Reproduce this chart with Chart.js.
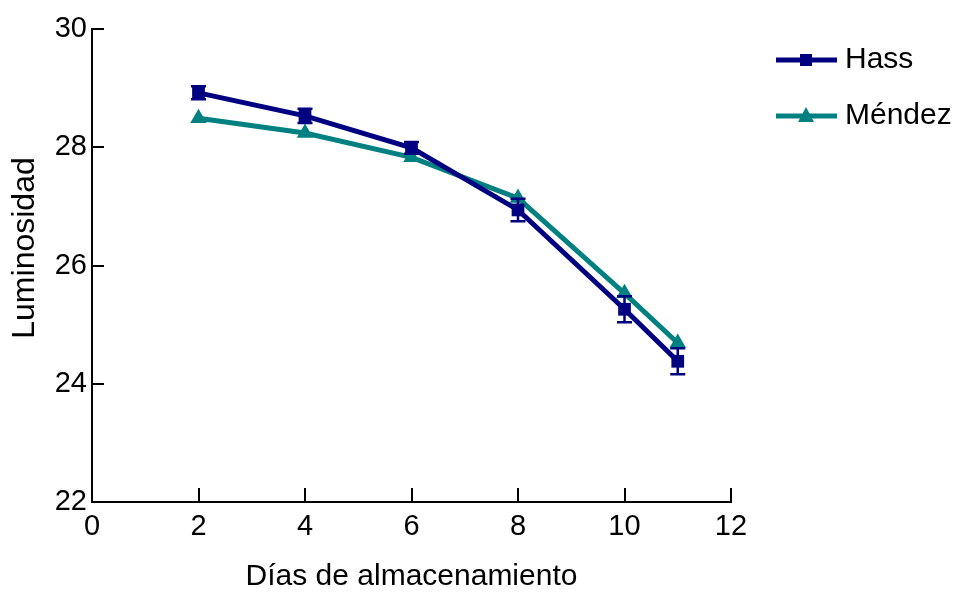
<!DOCTYPE html>
<html lang="es">
<head>
    <meta charset="UTF-8">
    <title>Luminosidad - Hass y Méndez</title>
    <script src="https://cdn.jsdelivr.net/npm/chart.js@4.4.0/dist/chart.umd.min.js"></script>
    <style>
        html, body { margin: 0; padding: 0; background: #fff; }
        #wrap { width: 955px; height: 593px; position: relative; }
    </style>
</head>
<body>
<div id="wrap"><canvas id="grafica"></canvas></div>
<script>
// Datos
const dias = [2, 4, 6, 8, 10, 11];
const hass = [28.92, 28.53, 27.99, 26.94, 25.26, 24.38];
const hassError = [0.11, 0.12, 0.10, 0.19, 0.22, 0.22];
const mendez = [28.49, 28.24, 27.83, 27.14, 25.53, 24.69];
const xTicks = [0, 2, 4, 6, 8, 10, 12];
const yTicks = [22, 24, 26, 28, 30];

const fuente = "'Liberation Sans', Arial, sans-serif";

// Barras de error (solo Hass)
const errorBars = {
    id: 'errorBars',
    afterDatasetsDraw(chart) {
        const ctx = chart.ctx;
        const xs = chart.scales.x, ys = chart.scales.y;
        ctx.save();
        ctx.strokeStyle = '#000080';
        ctx.lineWidth = 2.5;
        dias.forEach((d, i) => {
            const px = xs.getPixelForValue(d);
            const top = ys.getPixelForValue(hass[i] + hassError[i]);
            const bot = ys.getPixelForValue(hass[i] - hassError[i]);
            ctx.beginPath();
            ctx.moveTo(px, top); ctx.lineTo(px, bot);
            ctx.moveTo(px - 7.5, top); ctx.lineTo(px + 7.5, top);
            ctx.moveTo(px - 7.5, bot); ctx.lineTo(px + 7.5, bot);
            ctx.stroke();
        });
        ctx.restore();
    }
};

// Marcas hacia dentro en los ejes y título vertical
const ejes = {
    id: 'ejes',
    afterDraw(chart) {
        const ctx = chart.ctx;
        const xs = chart.scales.x, ys = chart.scales.y;
        const area = chart.chartArea;
        ctx.save();
        ctx.strokeStyle = '#000';
        ctx.lineWidth = 2;
        ctx.beginPath();
        xTicks.forEach(v => {
            if (v === xs.min) return;
            const px = Math.round(xs.getPixelForValue(v));
            ctx.moveTo(px, area.bottom); ctx.lineTo(px, area.bottom - 14);
        });
        yTicks.forEach(v => {
            if (v === ys.min) return;
            const py = Math.round(ys.getPixelForValue(v));
            ctx.moveTo(area.left, py); ctx.lineTo(area.left + 12, py);
        });
        ctx.stroke();

        ctx.translate(25, 248);
        ctx.rotate(-Math.PI / 2);
        ctx.fillStyle = '#000';
        ctx.font = '32px ' + fuente;
        ctx.textAlign = 'center';
        ctx.textBaseline = 'middle';
        ctx.fillText('Luminosidad', 0, 0);
        ctx.restore();
    }
};

// Leyenda con línea y marcador
const leyenda = {
    id: 'leyenda',
    afterDraw(chart) {
        const ctx = chart.ctx;
        ctx.save();
        chart.data.datasets.forEach((ds, i) => {
            const y = 60 + i * 56;
            ctx.strokeStyle = ds.borderColor;
            ctx.lineWidth = 5;
            ctx.beginPath();
            ctx.moveTo(776, y); ctx.lineTo(837, y);
            ctx.stroke();
            ctx.fillStyle = ds.borderColor;
            if (ds.pointStyle === 'rect') {
                ctx.fillRect(800, y - 6, 12, 12);
            } else {
                ctx.beginPath();
                ctx.moveTo(806, y - 9); ctx.lineTo(814, y + 6); ctx.lineTo(798, y + 6);
                ctx.closePath(); ctx.fill();
            }
            ctx.fillStyle = '#000';
            ctx.font = '30px ' + fuente;
            ctx.textBaseline = 'middle';
            ctx.fillText(ds.label, 845, y);
        });
        ctx.restore();
    }
};

new Chart(document.getElementById('grafica'), {
    type: 'line',
    data: {
        datasets: [
            {
                label: 'Hass',
                data: dias.map((d, i) => ({ x: d, y: hass[i] })),
                borderColor: '#000080',
                backgroundColor: '#000080',
                borderWidth: 5,
                pointStyle: 'rect',
                pointRadius: 9,
                pointBorderWidth: 0,
                tension: 0
            },
            {
                label: 'Méndez',
                data: dias.map((d, i) => ({ x: d, y: mendez[i] })),
                borderColor: '#008080',
                backgroundColor: '#008080',
                borderWidth: 5,
                pointStyle: 'triangle',
                pointRadius: 9.5,
                pointBorderWidth: 0,
                tension: 0
            }
        ]
    },
    options: {
        responsive: true,
        maintainAspectRatio: false,
        animation: false,
        layout: { padding: { left: 11, right: 224, top: 29, bottom: 1 } },
        plugins: {
            legend: { display: false },
            tooltip: { enabled: false }
        },
        scales: {
            x: {
                type: 'linear',
                min: 0, max: 12,
                afterFit(scale) { scale.height = 90; },
                afterBuildTicks(scale) { scale.ticks = xTicks.map(v => ({ value: v })); },
                grid: { display: false, drawTicks: false },
                border: { display: true, color: '#000', width: 2 },
                ticks: { color: '#000', padding: 10, maxRotation: 0, font: { family: fuente, size: 29, lineHeight: 1 } },
                title: { display: true, text: 'Días de almacenamiento', color: '#000', padding: 0,
                         font: { family: fuente, size: 30, lineHeight: 1 } }
            },
            y: {
                min: 22, max: 30,
                afterFit(scale) { scale.width = 81; },
                afterBuildTicks(scale) { scale.ticks = yTicks.map(v => ({ value: v })); },
                grid: { display: false, drawTicks: false },
                border: { display: true, color: '#000', width: 2 },
                ticks: { color: '#000', padding: 5, font: { family: fuente, size: 29, lineHeight: 1 } },
                title: { display: false, text: 'Luminosidad' }
            }
        }
    },
    plugins: [errorBars, ejes, leyenda]
});
</script>
</body>
</html>
